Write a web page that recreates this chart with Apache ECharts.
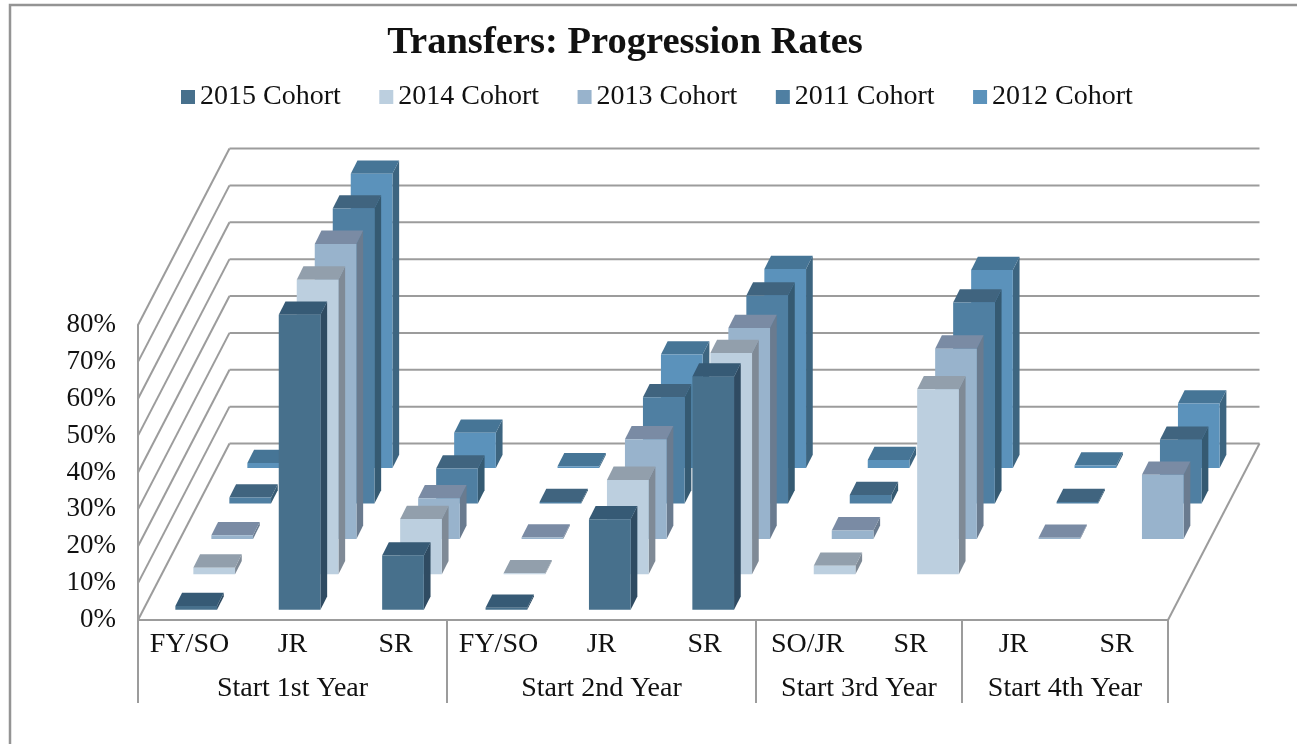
<!DOCTYPE html>
<html>
<head>
<meta charset="utf-8">
<title>Transfers: Progression Rates</title>
<script src="https://cdn.jsdelivr.net/npm/echarts@6/dist/echarts.min.js"></script>
<style>
  html, body { margin: 0; background: #fff; }
  #main { width: 1297px; height: 744px; }
</style>
</head>
<body>
<div id="main"></div>
<script>
const categories = ['FY/SO', 'JR', 'SR', 'FY/SO', 'JR', 'SR', 'SO/JR', 'SR', 'JR', 'SR']
const groupNames = ['Start 1st Year', 'Start 2nd Year', 'Start 3rd Year', 'Start 4th Year']
const groupSizes = [3, 3, 2, 2]
const yTicks = [0, 10, 20, 30, 40, 50, 60, 70, 80]

// percent values, front row to back row
const cohort2015 = [1, 80, 14.7, 0.5, 24.5, 63.2, null, null, null, null]
const cohort2014 = [1.8, 79.9, 15, 0.3, 25.6, 60, 2.3, 50.2, null, null]
const cohort2013 = [1, 80, 11, 0.4, 27, 57.2, 2.3, 51.6, 0.3, 17.4]
const cohort2011 = [1.6, 80, 9.5, 0.4, 28.8, 56.4, 2.3, 54.5, 0.4, 17.3]
const cohort2012 = [1.4, 79.8, 9.6, 0.5, 30.8, 54, 2.2, 53.7, 0.7, 17.5]

const cohortNames = ['2015 Cohort', '2014 Cohort', '2013 Cohort', '2011 Cohort', '2012 Cohort']
const cohortValues = [cohort2015, cohort2014, cohort2013, cohort2011, cohort2012]
const frontColors = ['#47708c', '#bccfdf', '#98b3cc', '#4f7fa2', '#5b92bb']
const sideColors = ['#2f4b62', '#7f8a96', '#6a7b8f', '#355a72', '#3d6580']
const topColors = ['#365a75', '#929fac', '#7a8ba4', '#40647f', '#467596']

const fontFamily = '"Liberation Serif", serif'
const gridColor = '#9c9c9c'

// oblique projection, in pixels
const wallDx = 91.5
const wallDy = 176.5
const rowDx = 18
const rowDy = 35.4
const firstRowDx = 5.35
const firstRowDy = 10.3
const barInset = 32
const barDrift = 0.4
const barWidth = 41.7
const barDepthX = 6.7
const barDepthY = 13.3

const line = (x1, y1, x2, y2) => ({
  type: 'line',
  shape: {x1, y1, x2, y2},
  style: {stroke: gridColor, lineWidth: 2}
})

const renderBar = (row) => (params, api) => {
  const idx = api.value(0)
  const base = api.coord([idx, 0])
  const head = api.coord([idx, api.value(1)])
  const band = api.size([1, 0])[0]
  const x = base[0] - band / 2 + barInset + idx * barDrift + firstRowDx + row * rowDx
  const shift = firstRowDy + row * rowDy
  const bottom = base[1] - shift
  const top = head[1] - shift
  const dx = barDepthX
  const dy = barDepthY
  const w = barWidth
  return {
    type: 'group',
    children: [
      {
        type: 'polygon',
        shape: {points: [[x + w, bottom], [x + w + dx, bottom - dy], [x + w + dx, top - dy], [x + w, top]]},
        style: {fill: sideColors[row]}
      },
      {
        type: 'polygon',
        shape: {points: [[x, top], [x + w, top], [x + w + dx, top - dy], [x + dx, top - dy]]},
        style: {fill: topColors[row]}
      },
      {
        type: 'rect',
        shape: {x: x, y: top, width: w, height: bottom - top},
        style: {fill: frontColors[row]}
      }
    ]
  }
}

// side wall, back wall and floor
const renderWalls = (params, api) => {
  const tick = api.value(0)
  const left = api.coord([0, tick])
  const right = api.coord([categories.length - 1, tick])
  const band = api.size([1, 0])[0]
  const x0 = left[0] - band / 2
  const x1 = right[0] + band / 2
  const y = left[1]
  const children = [
    line(x0, y, x0 + wallDx, y - wallDy),
    line(x0 + wallDx, y - wallDy, x1 + wallDx, y - wallDy)
  ]
  if (tick === 0) {
    children.push(line(x1, y, x1 + wallDx, y - wallDy))
  }
  return {type: 'group', children}
}

// group separators below the axis and the group captions
const groupStarts = groupSizes.map((n, i) => groupSizes.slice(0, i).reduce((a, b) => a + b, 0))
const renderGroups = (params, api) => {
  const start = api.value(0)
  const size = api.value(1)
  const band = api.size([1, 0])[0]
  const base = api.coord([start, 0])
  const x0 = base[0] - band / 2
  const x1 = x0 + size * band
  const y = base[1]
  const children = [
    line(x0, y, x0, y + 83),
    {
      type: 'text',
      style: {
        x: (x0 + x1) / 2,
        y: y + 69,
        text: groupNames[params.dataIndex],
        font: '28px ' + fontFamily,
        fill: '#111',
        align: 'center',
        verticalAlign: 'middle'
      }
    }
  ]
  if (params.dataIndex === groupSizes.length - 1) {
    children.push(line(x1, y, x1, y + 83))
  }
  return {type: 'group', children}
}

const chart = echarts.init(document.getElementById('main'))

const barSeries = cohortNames.map((name, row) => ({
  name: name,
  type: 'custom',
  z: 10 - row,
  renderItem: renderBar(row),
  encode: {x: 0, y: 1},
  itemStyle: {color: frontColors[row]},
  data: cohortValues[row].map((v, i) => [i, v]).filter((d) => d[1] !== null)
}))

chart.setOption({
  animation: false,
  backgroundColor: '#fff',
  title: {
    text: 'Transfers: Progression Rates',
    left: 620,
    top: 19,
    textAlign: 'center',
    textStyle: {fontFamily, fontSize: 38.6, fontWeight: 'bold', color: '#111'}
  },
  legend: {
    data: cohortNames,
    left: 176,
    top: 78,
    itemWidth: 14,
    itemHeight: 14,
    itemGap: 38.5,
    icon: 'rect',
    textStyle: {fontFamily, fontSize: 28, color: '#111'}
  },
  grid: {left: 138, right: 129, top: 325, bottom: 124},
  xAxis: {
    type: 'category',
    data: categories,
    axisLine: {lineStyle: {color: gridColor, width: 2}},
    axisTick: {show: false},
    axisLabel: {interval: 0, margin: 11, fontFamily, fontSize: 28, color: '#111'}
  },
  yAxis: {
    type: 'value',
    min: 0,
    max: 80,
    interval: 10,
    axisLine: {show: true, lineStyle: {color: gridColor, width: 2}},
    axisTick: {show: false},
    splitLine: {show: false},
    axisLabel: {margin: 22, padding: [3, 0, 0, 0], formatter: '{value}%', fontFamily, fontSize: 27, color: '#111'}
  },
  graphic: [
    {
      type: 'polyline',
      shape: {points: [[10, 744], [10, 5], [1297, 5]]},
      style: {stroke: '#949494', lineWidth: 2.5, fill: null}
    }
  ],
  series: [
    {
      name: 'walls',
      type: 'custom',
      z: 1,
      renderItem: renderWalls,
      silent: true,
      encode: {y: 0},
      data: yTicks.map((t) => [t])
    },
    {
      name: 'groups',
      type: 'custom',
      z: 1,
      renderItem: renderGroups,
      silent: true,
      encode: {x: 0},
      data: groupStarts.map((s, i) => [s, groupSizes[i]])
    },
    ...barSeries
  ]
})
</script>
</body>
</html>
